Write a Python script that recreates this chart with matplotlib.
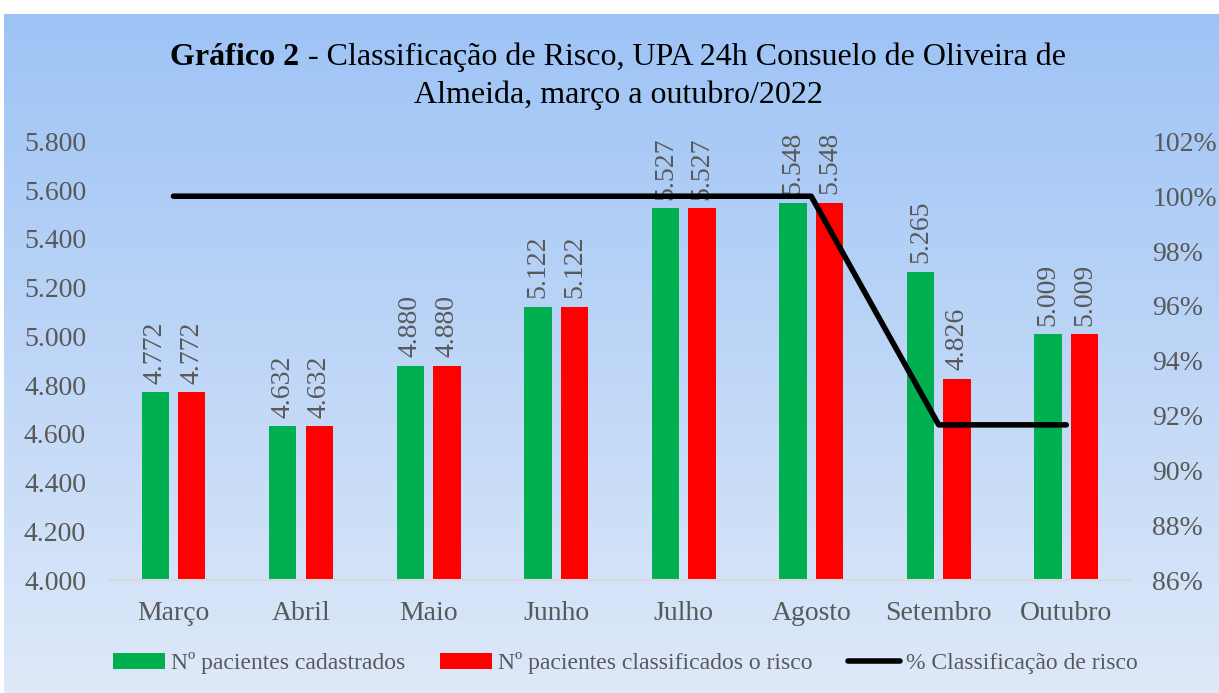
import matplotlib.pyplot as plt
import matplotlib.ticker as mticker
import numpy as np

plt.rcParams['font.family'] = ['Liberation Serif', 'DejaVu Serif']

meses = ['Março', 'Abril', 'Maio', 'Junho', 'Julho', 'Agosto', 'Setembro', 'Outubro']
cadastrados = [4772, 4632, 4880, 5122, 5527, 5548, 5265, 5009]
classificados = [4772, 4632, 4880, 5122, 5527, 5548, 4826, 5009]
perc_classif = [100, 100, 100, 100, 100, 100, 91.66, 91.66]

GRAY = '#595959'


def fmt_milhar(v, pos=None):
    return f'{v:,.0f}'.replace(',', '.')


def add_title(fig):
    # first line: bold "Gráfico 2" + regular rest, centred as one line
    bold = fig.text(0, 0.917, 'Gráfico 2', fontsize=23, fontweight='bold',
                    ha='left', va='center')
    rest = fig.text(0, 0.917, ' - Classificação de Risco, UPA 24h Consuelo de Oliveira de',
                    fontsize=23, ha='left', va='center')
    fig.canvas.draw()
    r = fig.canvas.get_renderer()
    wb = bold.get_window_extent(r).width / fig.bbox.width
    wr = rest.get_window_extent(r).width / fig.bbox.width
    x0 = 0.507 - (wb + wr) / 2
    bold.set_x(x0)
    rest.set_x(x0 + wb)
    fig.text(0.507, 0.862, 'Almeida, março a outubro/2022', fontsize=23,
             ha='center', va='center')


def main():
    fig = plt.figure(figsize=(12.19, 6.93), dpi=100)

    # gradient background panel
    bg = fig.add_axes([0.003, 0, 0.997, 0.98], zorder=-10)
    grad = np.linspace(0, 1, 256).reshape(-1, 1)
    top = np.array([157, 195, 245]) / 255
    bottom = np.array([222, 233, 249]) / 255
    img = top + (bottom - top) * grad[:, :, None]
    bg.imshow(img, aspect='auto', extent=[0, 1, 0, 1])
    bg.axis('off')

    ax = fig.add_axes([0.090, 0.163, 0.837, 0.633])
    ax.patch.set_alpha(0)
    ax2 = ax.twinx()

    x = np.arange(len(meses))
    w = 0.215
    off = 0.143
    b1 = ax.bar(x - off, cadastrados, w, color='#00B050', label='Nº pacientes cadastrados')
    b2 = ax.bar(x + off, classificados, w, color='#FF0000', label='Nº pacientes classificados o risco')

    for bars in (b1, b2):
        for rect in bars:
            ax.annotate(fmt_milhar(rect.get_height()),
                        (rect.get_x() + rect.get_width() / 2, rect.get_height()),
                        xytext=(0, 6), textcoords='offset points',
                        rotation=90, ha='center', va='bottom',
                        fontsize=20, color=GRAY)

    ln, = ax2.plot(x, perc_classif, color='black', lw=4, solid_capstyle='round',
                   label='% Classificação de risco')

    ax.set_ylim(4000, 5800)
    ax.set_yticks(np.arange(4000, 5801, 200))
    ax.yaxis.set_major_formatter(mticker.FuncFormatter(fmt_milhar))
    ax2.set_ylim(86, 102)
    ax2.set_yticks(np.arange(86, 103, 2))
    ax2.yaxis.set_major_formatter(mticker.FuncFormatter(lambda v, p: f'{v:.0f}%'))
    ax.set_xlim(-0.5, len(meses) - 0.5)
    ax.set_xticks(x)
    ax.set_xticklabels(meses)

    for a in (ax, ax2):
        for s in a.spines.values():
            s.set_visible(False)
        a.tick_params(length=0, labelsize=20, labelcolor=GRAY)
    ax.tick_params(axis='y', pad=17)
    ax2.tick_params(axis='y', pad=16)
    ax.tick_params(axis='x', pad=15)
    ax.spines['bottom'].set_visible(True)
    ax.spines['bottom'].set_color('#D9D9D9')
    ax.spines['bottom'].set_linewidth(1.5)

    add_title(fig)

    fig.legend(handles=[b1, b2, ln], loc='center', bbox_to_anchor=(0.513, 0.043), ncol=3,
               frameon=False, fontsize=17, labelcolor=GRAY, handlelength=2.2,
               handletextpad=0.25, columnspacing=1.5)

    fig.savefig('out.png', dpi=100)


if __name__ == '__main__':
    main()
